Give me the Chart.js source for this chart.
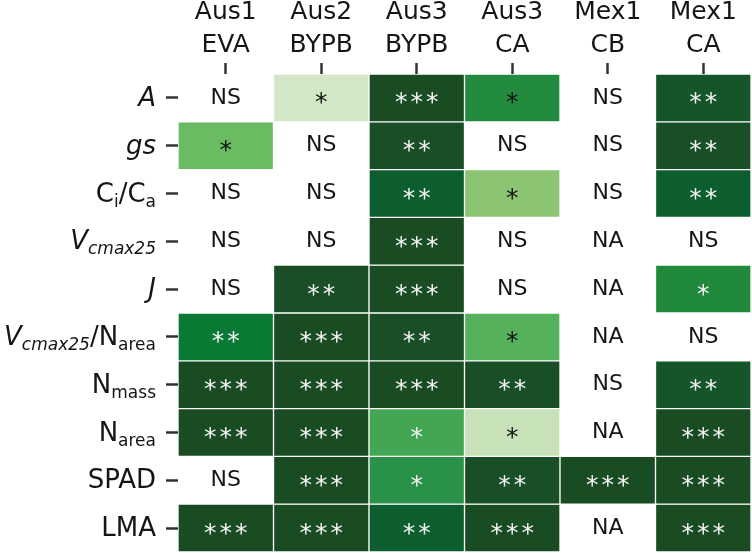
<!DOCTYPE html>
<html>
<head>
<meta charset="utf-8">
<script src="https://cdn.jsdelivr.net/npm/chart.js@4/dist/chart.umd.min.js"></script>
<style>
  html, body { margin: 0; padding: 0; background: #fff; }
  #wrap { width: 752px; height: 553px; position: relative; }
</style>
</head>
<body>
<div id="wrap"><canvas id="c" width="752" height="553"></canvas></div>
<script>
// ---- data ----
const colSites = ['Aus1', 'Aus2', 'Aus3', 'Aus3', 'Mex1', 'Mex1'];
const colTreatments = ['EVA', 'BYPB', 'BYPB', 'CA', 'CB', 'CA'];

// row labels with light markup (<i> italic, <sub> subscript)
const rowLabels = [
  '<i>A</i>',
  '<i>gs</i>',
  'C<sub>i</sub>/C<sub>a</sub>',
  '<i>V<sub>cmax25</sub></i>',
  '<i>J</i>',
  '<i>V<sub>cmax25</sub></i>/N<sub>area</sub>',
  'N<sub>mass</sub>',
  'N<sub>area</sub>',
  'SPAD',
  'LMA'
];

// significance labels per row (columns in the order of colSites)
const sigA      = ['NS', '*',   '***', '*',  'NS',  '**'];
const sigGs     = ['*',  'NS',  '**',  'NS', 'NS',  '**'];
const sigCiCa   = ['NS', 'NS',  '**',  '*',  'NS',  '**'];
const sigVcmax  = ['NS', 'NS',  '***', 'NS', 'NA',  'NS'];
const sigJ      = ['NS', '**',  '***', 'NS', 'NA',  '*'];
const sigVcN    = ['**', '***', '**',  '*',  'NA',  'NS'];
const sigNmass  = ['***','***', '***', '**', 'NS',  '**'];
const sigNarea  = ['***','***', '*',   '*',  'NA',  '***'];
const sigSPAD   = ['NS', '***', '*',   '**', '***', '***'];
const sigLMA    = ['***','***', '**',  '***','NA',  '***'];
const sigRows = [sigA, sigGs, sigCiCa, sigVcmax, sigJ, sigVcN, sigNmass, sigNarea, sigSPAD, sigLMA];

// cell shading strength (0 = palest green, 1 = darkest); null = no fill
const shadeA      = [null, 0.02, 0.97, 0.60, null, 0.88];
const shadeGs     = [0.35, null, 0.93, null, null, 0.92];
const shadeCiCa   = [null, null, 0.80, 0.30, null, 0.80];
const shadeVcmax  = [null, null, 0.97, null, null, null];
const shadeJ      = [null, 0.93, 0.97, null, null, 0.62];
const shadeVcN    = [0.72, 0.97, 0.93, 0.42, null, null];
const shadeNmass  = [0.97, 0.97, 0.97, 0.92, null, 0.88];
const shadeNarea  = [0.97, 0.97, 0.47, 0.08, null, 0.97];
const shadeSPAD   = [null, 0.97, 0.55, 0.92, 0.97, 0.97];
const shadeLMA    = [0.97, 0.97, 0.80, 0.97, null, 0.97];
const shadeRows = [shadeA, shadeGs, shadeCiCa, shadeVcmax, shadeJ, shadeVcN, shadeNmass, shadeNarea, shadeSPAD, shadeLMA];

// ---- styling helpers ----
const colorStops = [
  [0.00, [212, 233, 202]],
  [0.08, [199, 226, 184]],
  [0.30, [139, 197, 116]],
  [0.35, [107, 187, 98]],
  [0.42, [85, 177, 91]],
  [0.47, [67, 166, 83]],
  [0.55, [42, 145, 73]],
  [0.60, [35, 139, 62]],
  [0.62, [33, 137, 60]],
  [0.72, [10, 121, 51]],
  [0.80, [12, 94, 46]],
  [0.88, [22, 84, 42]],
  [0.93, [26, 78, 38]],
  [1.00, [26, 74, 35]]
];
function shadeColor(v) {
  for (let i = 1; i < colorStops.length; i++) {
    const [v1, c1] = colorStops[i];
    const [v0, c0] = colorStops[i - 1];
    if (v <= v1) {
      const t = (v - v0) / (v1 - v0);
      const c = c0.map((a, k) => Math.round(a + (c1[k] - a) * t));
      return `rgb(${c[0]},${c[1]},${c[2]})`;
    }
  }
  const c = colorStops[colorStops.length - 1][1];
  return `rgb(${c[0]},${c[1]},${c[2]})`;
}
// cells whose star labels are printed in dark ink
function darkInk(r, c) {
  const s = shadeRows[r][c];
  if (s === null) return true;
  if (r === 0 && c === 3) return true;
  return s < 0.45;
}

const FONT = "'DejaVu Sans', Verdana, sans-serif";

const datasets = rowLabels.map((lab, r) => ({
  label: lab,
  data: shadeRows[r].map(v => v === null ? null : [r + 0.5, r + 1.5]),
  backgroundColor: shadeRows[r].map(v => v === null ? 'rgba(0,0,0,0)' : shadeColor(v)),
  borderColor: '#ffffff',
  borderWidth: 1,
  borderSkipped: false,
  barPercentage: 1,
  categoryPercentage: 1,
  grouped: false
}));

function parseMarkup(str) {
  const segs = [];
  let italic = false, sub = false;
  const re = /(<\/?i>|<\/?sub>)/g;
  const parts = str.split(re);
  for (const p of parts) {
    if (p === '<i>') italic = true;
    else if (p === '</i>') italic = false;
    else if (p === '<sub>') sub = true;
    else if (p === '</sub>') sub = false;
    else if (p.length) segs.push({ t: p, italic, sub });
  }
  return segs;
}

const cellTextPlugin = {
  id: 'cellText',
  afterDatasetsDraw(chart) {
    const ctx = chart.ctx;
    const xs = chart.scales.x, ys = chart.scales.y;
    ctx.save();
    ctx.textAlign = 'center';
    ctx.textBaseline = 'middle';
    sigRows.forEach((row, r) => {
      row.forEach((txt, c) => {
        const x = xs.getPixelForValue(c);
        const y = ys.getPixelForValue(r + 1);
        const dark = darkInk(r, c);
        ctx.fillStyle = dark ? '#151515' : '#f2f2f2';
        if (txt.startsWith('*')) {
          ctx.font = `25px ${FONT}`;
          if ('letterSpacing' in ctx) ctx.letterSpacing = '3px';
          ctx.fillText(txt, x + 1.5, y + 6);
          if ('letterSpacing' in ctx) ctx.letterSpacing = '0px';
        } else {
          ctx.font = `22px ${FONT}`;
          ctx.fillText(txt, x, y);
        }
      });
    });
    ctx.restore();
  }
};

const rowLabelPlugin = {
  id: 'rowLabels',
  afterDraw(chart) {
    const ctx = chart.ctx;
    const ys = chart.scales.y;
    const rightX = ys.right - 22;
    ctx.save();
    ctx.fillStyle = '#151515';
    ctx.textBaseline = 'alphabetic';
    ctx.textAlign = 'left';
    rowLabels.forEach((lab, r) => {
      const segs = parseMarkup(lab);
      const fontFor = s => `${s.italic ? 'italic ' : ''}${s.sub ? 17 : 26}px ${FONT}`;
      let total = 0;
      segs.forEach(s => { ctx.font = fontFor(s); s.w = ctx.measureText(s.t).width; total += s.w; });
      let x = rightX - total;
      const base = ys.getPixelForValue(r + 1) + 8;
      segs.forEach(s => {
        ctx.font = fontFor(s);
        ctx.fillText(s.t, x, base + (s.sub ? 5 : 0));
        x += s.w;
      });
    });
    ctx.restore();
  }
};

new Chart(document.getElementById('c'), {
  type: 'bar',
  data: {
    labels: colSites.map((s, i) => [s, colTreatments[i]]),
    datasets
  },
  options: {
    responsive: false,
    animation: false,
    events: [],
    layout: { padding: { left: 0, right: 1, top: 0, bottom: 1 } },
    plugins: { legend: { display: false }, tooltip: { enabled: false } },
    scales: {
      x: {
        type: 'category',
        position: 'top',
        offset: true,
        border: { display: false },
        grid: { offset: false, drawOnChartArea: false, drawTicks: true, tickLength: 11, tickWidth: 2.5, tickColor: '#333' },
        ticks: { font: { family: FONT, size: 25, lineHeight: 1.32 }, color: '#151515', padding: 1, maxRotation: 0, autoSkip: false },
        afterFit(scale) { scale.height = 74; }
      },
      y: {
        type: 'linear',
        reverse: true,
        min: 0.5,
        max: 10.5,
        border: { display: false },
        grid: { drawOnChartArea: false, drawTicks: true, tickLength: 12, tickWidth: 2.5, tickColor: '#333' },
        ticks: { display: false },
        afterBuildTicks(scale) { scale.ticks = rowLabels.map((_, i) => ({ value: i + 1 })); },
        afterFit(scale) { scale.width = 178; }
      }
    }
  },
  plugins: [cellTextPlugin, rowLabelPlugin]
});
</script>
</body>
</html>
